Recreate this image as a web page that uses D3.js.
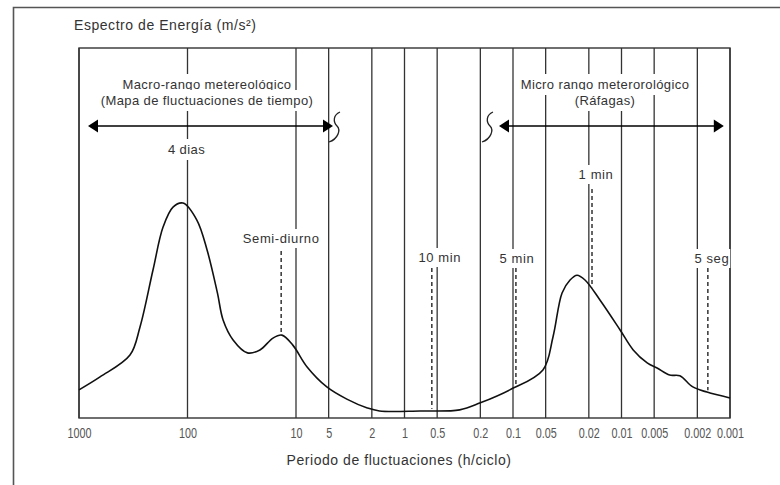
<!DOCTYPE html>
<html>
<head>
<meta charset="utf-8">
<script src="https://cdn.jsdelivr.net/npm/d3@7/dist/d3.min.js"></script>
<style>
  html, body { margin: 0; padding: 0; background: #fff; }
  svg { display: block; }
  text { font-family: "Liberation Sans", Arial, Helvetica, sans-serif; fill: #333; }
</style>
</head>
<body>
<div id="chart"></div>
<script>
// ---------- data ----------
const tickValues = [1000, 100, 10, 5, 2, 1, 0.5, 0.2, 0.1, 0.05, 0.02, 0.01, 0.005, 0.002, 0.001];
const tickLabels = ["1000", "100", "10", "5", "2", "1", "0.5", "0.2", "0.1", "0.05", "0.02", "0.01", "0.005", "0.002", "0.001"];

// spectrum curve: period (h/ciclo) and relative energy
const periods = [1000, 640, 339, 274, 208, 168, 136, 110, 82, 66, 53, 47, 38, 28, 21.5, 16.3, 13.5, 10.7, 7.9, 5.2,
                 3.4, 2.2, 1.7, 0.72, 0.31, 0.20, 0.107, 0.053, 0.0428, 0.0353, 0.0298, 0.0257, 0.0217, 0.0158, 0.0103,
                 0.0078, 0.0058, 0.0047, 0.0036, 0.0029, 0.0022, 0.00163, 0.001];
const energy  = [0.76, 1.11, 1.70, 2.46, 4.00, 5.16, 5.70, 5.81, 5.35, 4.54, 3.38, 2.65, 2.11, 1.76, 1.84, 2.16, 2.24, 1.97, 1.38, 0.84,
                 0.51, 0.27, 0.19, 0.19, 0.22, 0.41, 0.76, 1.30, 2.19, 3.38, 3.73, 3.86, 3.73, 3.19, 2.38,
                 1.84, 1.49, 1.35, 1.16, 1.14, 0.84, 0.70, 0.54];

// dashed markers
const markerLabels  = ["Semi-diurno", "10 min", "5 min", "1 min", "5 seg"];
const markerPeriods = [13.7, 0.56, 0.094, 0.0187, 0.0016];

// range annotations
const rangeTitles = [["Macro-rango metereológico", "(Mapa de fluctuaciones de tiempo)"], ["Micro rango meterorológico", "(Ráfagas)"]];
const rangeSpans  = [[826, 4.56], [0.1346, 0.00114]];
const peakLabel = "4 dias";
const peakPeriod = 100;

const chartTitle = "Espectro de Energía (m/s²)";
const xTitle = "Periodo de fluctuaciones (h/ciclo)";

// ---------- layout ----------
const W = 780, H = 485;
const L = 79, R = 730, T = 48, B = 418;

const svg = d3.select("#chart").append("svg").attr("width", W).attr("height", H);

const x = d3.scaleLog().domain([1000, 0.001]).range([L, R]);
const y = d3.scaleLinear().domain([0, 10]).range([B, T]);

// outer frame (open to the right/bottom, as in the reference)
svg.append("path").attr("d", `M13.5,${H + 5} L13.5,7.5 L${W + 5},7.5`)
  .attr("fill", "none").attr("stroke", "#555").attr("stroke-width", 1.6);

svg.append("text").attr("x", 74).attr("y", 30).attr("font-size", 14).attr("letter-spacing", 0.55)
  .text(chartTitle);

// grid (vertical lines at each tick)
const grid = svg.append("g");
grid.selectAll("line").data(tickValues).join("line")
  .attr("x1", d => x(d)).attr("x2", d => x(d)).attr("y1", T).attr("y2", B)
  .attr("stroke", "#333").attr("stroke-width", 1.3);

// box
svg.append("rect").attr("x", L).attr("y", T).attr("width", R - L).attr("height", B - T)
  .attr("fill", "none").attr("stroke", "#333").attr("stroke-width", 1.4);

// x axis
const xAxis = d3.axisBottom(x).tickValues(tickValues).tickSize(0).tickPadding(9)
  .tickFormat((d, i) => tickLabels[i]);
const ax = svg.append("g").attr("transform", `translate(0,${B})`).call(xAxis);
ax.select(".domain").remove();
ax.selectAll("text")
  .attr("font-family", "'Liberation Sans', Arial, sans-serif")
  .attr("font-size", 15).attr("fill", "#555").style("fill", "#555")
  .attr("transform", "scale(0.72,1)");

svg.append("text").attr("x", 399).attr("y", 465).attr("text-anchor", "middle")
  .attr("font-size", 14).attr("letter-spacing", 0.55).text(xTitle);

// label helper with white background
const labels = svg.append("g");
function label(txt, cx, by, size, ls, pad) {
  const g = labels.append("g");
  const r = g.append("rect").attr("fill", "#fff");
  const t = g.append("text").attr("x", cx).attr("y", by).attr("text-anchor", "middle")
    .attr("font-size", size).attr("letter-spacing", ls).text(txt);
  const bb = t.node().getBBox();
  r.attr("x", bb.x - pad[0]).attr("y", bb.y - pad[1]).attr("width", bb.width + 2 * pad[0]).attr("height", bb.height + 2 * pad[1]);
  return g;
}

// range titles
label(rangeTitles[0][0], 207, 89, 13, 0.4, [2, 3]);
label(rangeTitles[0][1], 207, 105, 13, 0.4, [2, 3]);
label(rangeTitles[1][0], 605, 89, 13, 0.4, [2, 3]);
label(rangeTitles[1][1], 605, 105, 13, 0.4, [2, 3]);
label(peakLabel, x(peakPeriod) - 1, 154, 13, 0.4, [2, 3]);

// curve energy interpolation (log-period) for dashed marker ends
function energyAt(p) {
  const lp = Math.log10(p);
  for (let i = 0; i < periods.length - 1; i++) {
    const a = Math.log10(periods[i]), b = Math.log10(periods[i + 1]);
    if (lp <= a && lp >= b) {
      const t = (a - lp) / (a - b);
      return energy[i] + t * (energy[i + 1] - energy[i]);
    }
  }
  return energy[energy.length - 1];
}

// marker labels and dashed lines
const labelY = [243, 262, 263, 179, 263];
const labelDx = [0, 8, 1, 4, 4];
const dashTop = [251, 268, 268, 189, 268];
markerLabels.forEach((m, i) => {
  const mx = x(markerPeriods[i]);
  label(m, mx + labelDx[i], labelY[i], 13, 0.6, [1, 2]);
  svg.append("line").attr("x1", mx).attr("x2", mx)
    .attr("y1", dashTop[i]).attr("y2", y(energyAt(markerPeriods[i])) - 2)
    .attr("stroke", "#333").attr("stroke-width", 1.5).attr("stroke-dasharray", "4,3");
});

// spectrum curve
const pts = periods.map((p, i) => ({ p, e: energy[i] }));
svg.append("path").datum(pts)
  .attr("d", d3.line().x(d => x(d.p)).y(d => y(d.e)).curve(d3.curveCatmullRom.alpha(0.5)))
  .attr("fill", "none").attr("stroke", "#111").attr("stroke-width", 1.6);

// arrows
const arrowY = 126;
function arrowHead(tipX, dir) {
  const len = 10, hh = 6.5;
  svg.append("path")
    .attr("d", `M${tipX},${arrowY} L${tipX - dir * len},${arrowY - hh} L${tipX - dir * len},${arrowY + hh} Z`)
    .attr("fill", "#000");
}
function squiggle(bx) {
  svg.append("path")
    .attr("d", `M${bx + 7},${arrowY - 14} C${bx},${arrowY - 11} ${bx},${arrowY - 4} ${bx + 4},${arrowY} C${bx + 8},${arrowY + 4} ${bx + 5},${arrowY + 13} ${bx - 4},${arrowY + 16}`)
    .attr("fill", "none").attr("stroke", "#222").attr("stroke-width", 1.3);
}
rangeSpans.forEach((s) => {
  const x0 = x(s[0]), x1 = x(s[1]);
  svg.append("line").attr("x1", x0 + 4).attr("x2", x1 - 4).attr("y1", arrowY).attr("y2", arrowY)
    .attr("stroke", "#000").attr("stroke-width", 1.6);
  arrowHead(x0, -1);
  arrowHead(x1, 1);
});
squiggle(x(rangeSpans[0][1]));
squiggle(x(rangeSpans[1][0]) - 13);
</script>
</body>
</html>
